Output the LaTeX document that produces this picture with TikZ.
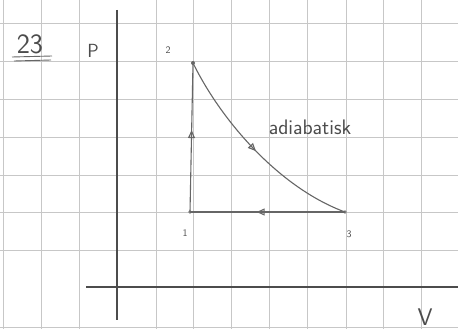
\documentclass[tikz,border=0pt]{standalone}
\usetikzlibrary{arrows.meta,decorations.markings}
\begin{document}
\begin{tikzpicture}[x=1pt,y=-1pt,
  gridline/.style={draw=black!22,line width=0.7pt},
  axis/.style={draw=black!70,line width=1.1pt},
  pencil/.style={draw=black!60,line width=1.1pt},
  lbl/.style={text=black!70,inner sep=0pt},
  midarrow/.style={postaction={decorate},decoration={markings,mark=at position #1 with {\arrow{Triangle[open,length=8pt,width=7pt]}}}}]
\useasboundingbox[fill=white] (0,0) rectangle (458,329);
% grid
\foreach \x in {3,41,79,156,193,231,269,307,346,383,421}
  \draw[gridline] (\x,0) -- (\x,329);
\foreach \y in {23,61,99,137,175,212,250,327}
  \draw[gridline] (0,\y) -- (458,\y);
% axes
\coordinate (ptop) at (117,10);
\coordinate (pbot) at (117,320);
\coordinate (vleft) at (86,287);
\coordinate (vright) at (458,287);
\draw[axis] (ptop) -- (pbot);
\draw[axis] (vleft) -- (vright);
% points
\coordinate (p2) at (193,63);
\coordinate (p1) at (190,212);
\coordinate (p3) at (345,212);
\fill[black!60] (p2) circle (2pt);
\fill[black!50] (p1) circle (1.8pt);
\fill[black!50] (p3) circle (1.8pt);
% process lines
\draw[pencil,midarrow=0.55] (p1) -- (p2);
\draw[pencil,midarrow=0.5] (p2) .. controls (222,122) and (280,188) .. (p3);
\draw[pencil,midarrow=0.57] (p3) -- (p1);
% labels
\node[lbl,font=\sffamily\fontsize{28}{30}\selectfont] (num) at (30,44) {23};
\draw[black!60,line width=0.9pt] (12,57) -- (52,56);
\draw[black!60,line width=0.9pt] (14,61) -- (51,60);
\node[lbl,font=\sffamily\fontsize{19}{21}\selectfont] (P) at (93,51) {P};
\node[lbl,font=\sffamily\fontsize{24}{26}\selectfont] (V) at (425,317) {V};
\node[lbl,font=\sffamily\fontsize{10}{12}\selectfont] (l2) at (168,50) {2};
\node[lbl,font=\sffamily\fontsize{10}{12}\selectfont] (l1) at (185,233) {1};
\node[lbl,font=\sffamily\fontsize{10}{12}\selectfont] (l3) at (349,234) {3};
\node[lbl,font=\sffamily\fontsize{21}{23}\selectfont] (ad) at (310,127) {adiabatisk};
\end{tikzpicture}
\end{document}
